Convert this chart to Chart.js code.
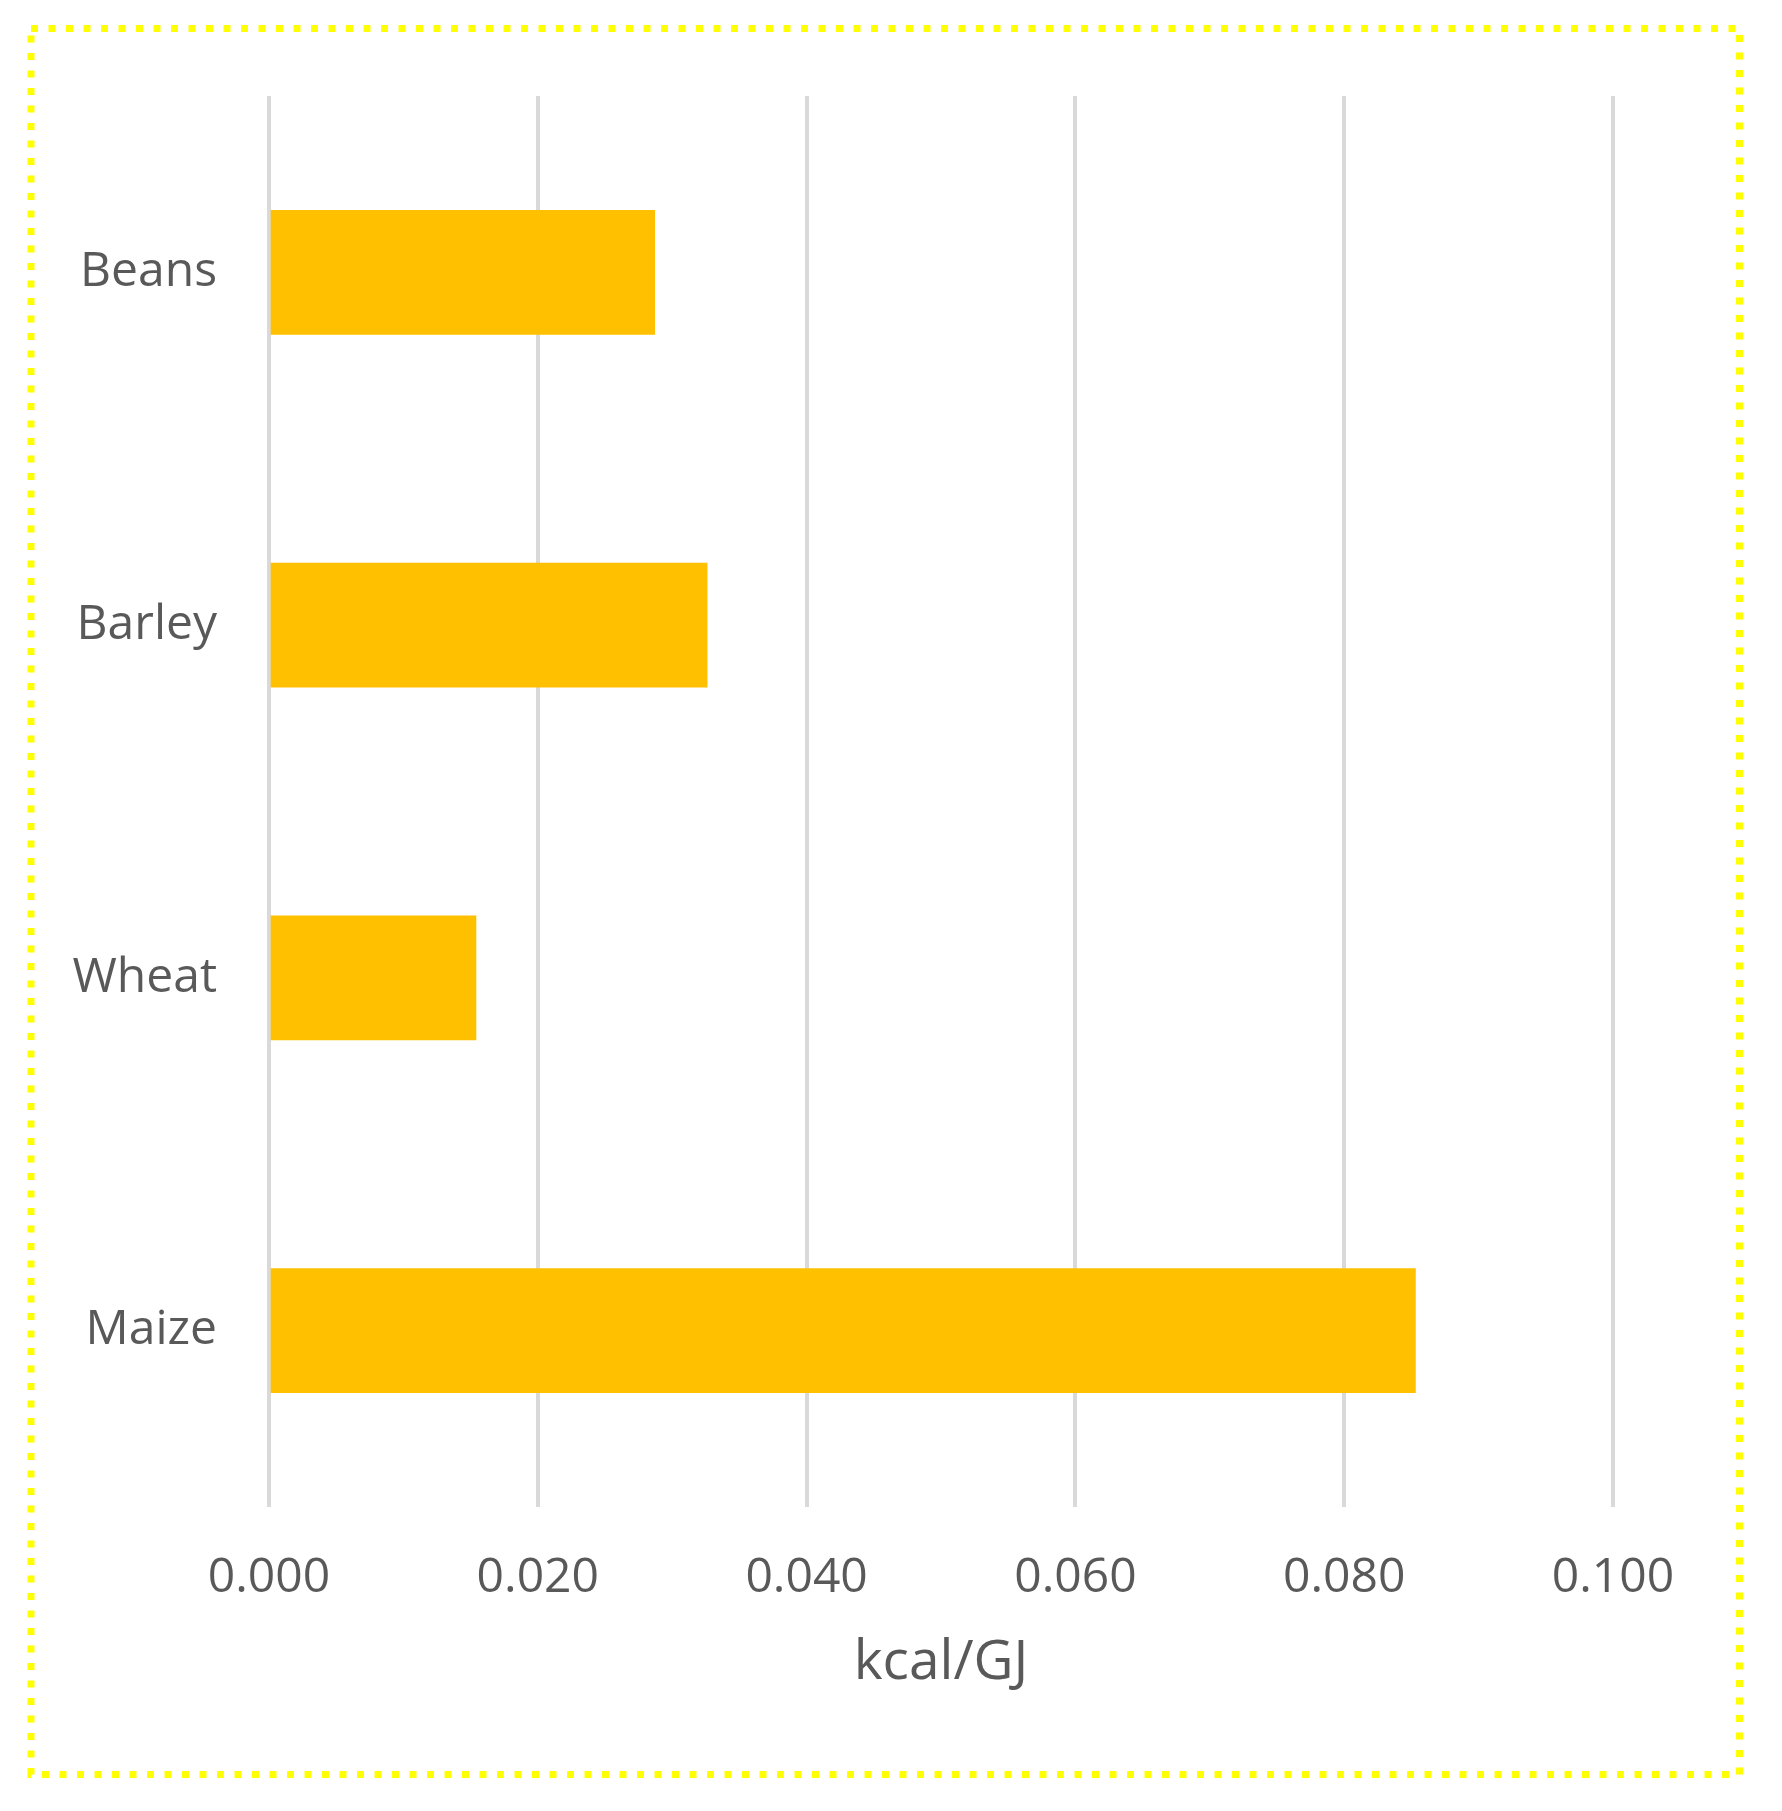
<!DOCTYPE html>
<html>
<head>
<meta charset="utf-8">
<script src="https://cdn.jsdelivr.net/npm/chart.js@4"></script>
<style>
  html, body { margin: 0; padding: 0; background: #ffffff; }
  #wrap { position: relative; width: 1782px; height: 1811px; }
  canvas { display: block; }
</style>
</head>
<body>
<div id="wrap"><canvas id="c" width="1782" height="1811"></canvas></div>
<script>
const categories = ['Beans', 'Barley', 'Wheat', 'Maize'];
const values = [0.0287, 0.0326, 0.0154, 0.0853];
const xTickValues = [0.000, 0.020, 0.040, 0.060, 0.080, 0.100];
const axisTitle = 'kcal/GJ';

const borderPlugin = {
  id: 'dottedBorder',
  afterDraw(chart) {
    const ctx = chart.ctx;
    ctx.save();
    ctx.strokeStyle = '#FFFF00';
    ctx.lineWidth = 7;
    ctx.setLineDash([7, 10.5]);
    ctx.strokeRect(31, 28.5, 1708.5, 1746);
    ctx.restore();
  }
};

function build() {
  const ctx = document.getElementById('c').getContext('2d');
  new Chart(ctx, {
    type: 'bar',
    data: {
      labels: categories,
      datasets: [{
        data: values,
        backgroundColor: '#FFC000',
        borderWidth: 0,
        barThickness: 124
      }]
    },
    options: {
      indexAxis: 'y',
      responsive: false,
      animation: false,
      devicePixelRatio: 1,
      layout: { padding: { left: 0, right: 169, top: 96, bottom: 0 } },
      plugins: { legend: { display: false }, tooltip: { enabled: false } },
      scales: {
        x: {
          type: 'linear',
          min: 0,
          max: 0.1,
          afterBuildTicks(scale) {
            scale.ticks = xTickValues.map(v => ({ value: v }));
          },
          afterFit(scale) { scale.height = 304; },
          grid: { color: '#D9D9D9', lineWidth: 4, drawTicks: false },
          border: { display: false },
          ticks: {
            padding: 43,
            color: '#595959',
            font: { family: '"Open Sans"', size: 48 },
            maxRotation: 0,
            autoSkip: false,
            callback: v => Number(v).toFixed(3)
          },
          title: {
            display: true,
            text: axisTitle,
            color: '#595959',
            font: { family: '"Open Sans"', size: 55 },
            padding: { top: 0, bottom: 115 }
          }
        },
        y: {
          afterFit(scale) { scale.width = 269; },
          grid: { display: false, drawTicks: false },
          border: { display: false },
          ticks: {
            padding: 52,
            color: '#595959',
            font: { family: '"Open Sans"', size: 48 }
          }
        }
      }
    },
    plugins: [borderPlugin]
  });
}

Promise.all([
  document.fonts.load('48px "Open Sans"'),
  document.fonts.load('55px "Open Sans"')
]).then(build, build);
</script>
</body>
</html>
